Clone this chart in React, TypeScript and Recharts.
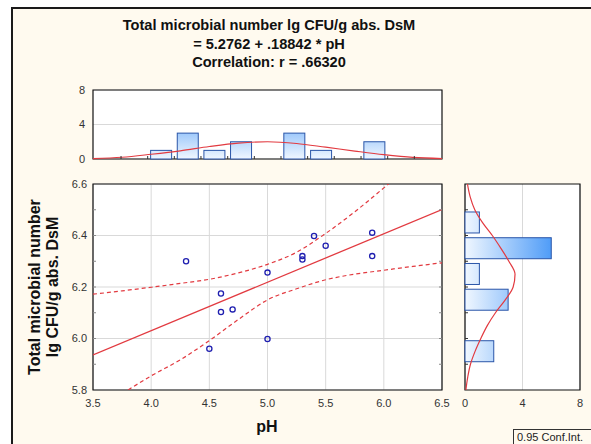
import React from "react";
import {
  Bar,
  CartesianGrid,
  ComposedChart,
  Line,
  ReferenceArea,
  Scatter,
  XAxis,
  YAxis
} from "recharts";

// scatter: pH vs total microbial number
const phValues = [4.3, 4.5, 4.6, 4.6, 4.7, 5.0, 5.0, 5.3, 5.3, 5.4, 5.5, 5.9, 5.9];
const cfuValues = [6.3, 5.96, 6.175, 6.103, 6.113, 6.256, 5.998, 6.32, 6.307, 6.398, 6.36, 6.411, 6.32];

// fitted line and 0.95 confidence band
const fitPh = [3.5, 6.5];
const fitCfu = [5.936, 6.501];
const bandPh = [3.5, 3.75, 4.0, 4.25, 4.5, 4.75, 5.0, 5.25, 5.5, 5.75, 6.0, 6.25, 6.5];
const bandUpper = [6.172, 6.185, 6.199, 6.214, 6.23, 6.255, 6.288, 6.335, 6.408, 6.492, 6.585, 6.68, 6.77];
const bandLower = [5.71, 5.785, 5.855, 5.917, 5.992, 6.074, 6.15, 6.193, 6.228, 6.25, 6.265, 6.28, 6.294];

const phTicks = [3.5, 4.0, 4.5, 5.0, 5.5, 6.0, 6.5];
const phMinorTicks = [
  3.6, 3.7, 3.8, 3.9, 4.0, 4.1, 4.2, 4.3, 4.4, 4.5, 4.6, 4.7, 4.8, 4.9, 5.0,
  5.1, 5.2, 5.3, 5.4, 5.5, 5.6, 5.7, 5.8, 5.9, 6.0, 6.1, 6.2, 6.3, 6.4
];
const cfuTicks = [5.8, 6.0, 6.2, 6.4, 6.6];
const cfuMinorTicks = [5.9, 6.0, 6.1, 6.2, 6.3, 6.4, 6.5];

// top histogram (pH)
const phBinCenters = [4.085, 4.314, 4.543, 4.772, 5.23, 5.46, 5.918];
const phBinCounts = [1, 3, 1, 2, 3, 1, 2];
const phBinEdges = [3.741, 3.97, 4.199, 4.428, 4.658, 4.887, 5.116, 5.345, 5.574, 5.804, 6.033, 6.262];
const phNormX = [3.5, 3.75, 4.0, 4.25, 4.5, 4.75, 5.0, 5.25, 5.5, 5.75, 6.0, 6.25, 6.5];
const phNormCount = [0.05, 0.2, 0.55, 0.95, 1.45, 1.85, 2.0, 1.8, 1.37, 0.92, 0.5, 0.18, 0.05];
const countTicks = [0, 4, 8];

// right histogram (microbial number)
const cfuBinCenters = [6.45, 6.35, 6.25, 6.15, 5.95];
const cfuBinCounts = [1, 6, 1, 3, 2];
const cfuNormY = [6.6, 6.55, 6.5, 6.45, 6.4, 6.35, 6.3, 6.25, 6.2, 6.15, 6.1, 6.05, 6.0, 5.95, 5.9, 5.85, 5.8];
const cfuNormCount = [0.17, 0.36, 0.68, 1.22, 1.9, 2.5, 3.05, 3.48, 3.35, 2.8, 2.12, 1.55, 1.1, 0.7, 0.38, 0.19, 0.06];

const FONT = "Arial, 'Liberation Sans', sans-serif";
const RED = "#e23a40";
const BAR_STROKE = "#2a55a8";
const BIN_PX = 21;
const tickStyle = { fill: "#333", fontSize: 11, fontFamily: FONT };
const blank = () => "";

const points = phValues.map((x, i) => ({ x, y: cfuValues[i] }));
const fitData = fitPh.map((x, i) => ({ x, fit: fitCfu[i] }));
const bandData = bandPh.map((x, i) => ({ x, upper: bandUpper[i], lower: bandLower[i] }));
const phHist = phBinCenters.map((x, i) => ({ x, n: phBinCounts[i] }));
const phNorm = phNormX.map((x, i) => ({ x, curve: phNormCount[i] }));
const cfuHist = cfuBinCenters.map((y, i) => ({ y, n: cfuBinCounts[i] }));
const cfuNorm = cfuNormY.map((y, i) => ({ y, curve: cfuNormCount[i] }));

// bars keep the library's position, widened to the bin width
const ColumnBin = (p: any) => (
  <rect x={p.x + p.width / 2 - BIN_PX / 2} y={p.y} width={BIN_PX} height={p.height}
    fill="url(#topGrad)" stroke={BAR_STROKE} strokeWidth={1} />
);
const RowBin = (p: any) => (
  <rect x={p.x} y={p.y + p.height / 2 - BIN_PX / 2} width={p.width} height={BIN_PX}
    fill="url(#rightGrad)" stroke={BAR_STROKE} strokeWidth={1} />
);

function ScatterPanel() {
  return (
    <ComposedChart width={460} height={251} margin={{ top: 14, right: 18, bottom: 0, left: 53 }}>
      <CartesianGrid stroke="#d9d9d9" fill="#fff" />
      <XAxis
        dataKey="x"
        type="number"
        domain={[3.5, 6.5]}
        allowDataOverflow
        ticks={phTicks}
        tickFormatter={(v: number) => v.toFixed(1)}
        tick={tickStyle}
        tickLine={false}
        axisLine={false}
        height={31}
        tickMargin={3}
      />
      <YAxis
        type="number"
        domain={[5.8, 6.6]}
        allowDataOverflow
        ticks={cfuTicks}
        tickFormatter={(v: number) => v.toFixed(1)}
        tick={tickStyle}
        tickLine={false}
        axisLine={false}
        width={40}
        tickSize={4}
        tickMargin={2}
      />
      <XAxis xAxisId="minorTop" orientation="top" mirror type="number" domain={[3.5, 6.5]}
        allowDataOverflow ticks={phMinorTicks} tickFormatter={blank} tickSize={3}
        axisLine={false} tickLine={{ stroke: "#888" }} />
      <XAxis xAxisId="minorBottom" orientation="bottom" mirror type="number" domain={[3.5, 6.5]}
        allowDataOverflow ticks={phMinorTicks} tickFormatter={blank} tickSize={3}
        axisLine={false} tickLine={{ stroke: "#888" }} />
      <YAxis yAxisId="minorLeft" orientation="left" mirror type="number" domain={[5.8, 6.6]}
        allowDataOverflow ticks={cfuMinorTicks} tickFormatter={blank} tickSize={3}
        axisLine={false} tickLine={{ stroke: "#888" }} />
      <YAxis yAxisId="minorRight" orientation="right" mirror type="number" domain={[5.8, 6.6]}
        allowDataOverflow ticks={cfuMinorTicks} tickFormatter={blank} tickSize={3}
        axisLine={false} tickLine={{ stroke: "#888" }} />
      <Line data={bandData} dataKey="upper" type="monotone" stroke={RED} strokeWidth={1.2}
        strokeDasharray="4 3" dot={false} isAnimationActive={false} />
      <Line data={bandData} dataKey="lower" type="monotone" stroke={RED} strokeWidth={1.2}
        strokeDasharray="4 3" dot={false} isAnimationActive={false} />
      <Line data={fitData} dataKey="fit" type="linear" stroke={RED} strokeWidth={1.3}
        dot={false} isAnimationActive={false} />
      <Scatter
        data={points}
        dataKey="y"
        isAnimationActive={false}
        shape={(p: any) => (
          <circle cx={p.cx} cy={p.cy} r={2.6} fill="none" stroke="#1f1fb0" strokeWidth={1.3} />
        )}
      />
      <ReferenceArea x1={3.5} x2={6.5} y1={5.8} y2={6.6} fill="none" stroke="#111" strokeWidth={1.2} />
    </ComposedChart>
  );
}

function TopHistogram() {
  return (
    <ComposedChart data={phHist} width={460} height={90} margin={{ top: 10, right: 18, bottom: 11, left: 63 }}>
      <defs>
        <linearGradient id="topGrad" gradientUnits="userSpaceOnUse" x1="0" y1="79" x2="0" y2="10">
          <stop offset="0%" stopColor="#f0f7ff" />
          <stop offset="100%" stopColor="#1a7ef5" />
        </linearGradient>
      </defs>
      <CartesianGrid stroke="#d9d9d9" fill="#fff" vertical={false} />
      <XAxis dataKey="x" type="number" orientation="bottom" mirror domain={[3.5, 6.5]}
        allowDataOverflow ticks={phBinEdges} tickFormatter={blank} tickSize={3}
        axisLine={false} tickLine={{ stroke: "#333" }} />
      <YAxis type="number" domain={[0, 8]} ticks={countTicks} tick={tickStyle}
        tickLine={false} axisLine={false} width={30} tickSize={4} tickMargin={4} />
      <Bar dataKey="n" shape={ColumnBin} isAnimationActive={false} />
      <Line data={phNorm} dataKey="curve" type="monotone" stroke={RED} strokeWidth={1.2}
        dot={false} isAnimationActive={false} />
      <ReferenceArea x1={3.5} x2={6.5} y1={0} y2={8} fill="none" stroke="#111" strokeWidth={1.2} />
    </ComposedChart>
  );
}

function RightHistogram() {
  return (
    <ComposedChart data={cfuHist} layout="vertical" width={151} height={251}
      margin={{ top: 14, right: 11, bottom: 0, left: 25 }}>
      <defs>
        <linearGradient id="rightGrad" gradientUnits="userSpaceOnUse" x1="25" y1="0" x2="140" y2="0">
          <stop offset="0%" stopColor="#f0f7ff" />
          <stop offset="100%" stopColor="#1a7ef5" />
        </linearGradient>
      </defs>
      <CartesianGrid stroke="#d9d9d9" fill="#fff" horizontal={false} />
      <XAxis type="number" domain={[0, 8]} ticks={countTicks} tick={tickStyle}
        tickLine={false} axisLine={false} height={31} tickMargin={3} />
      <YAxis dataKey="y" type="number" orientation="left" mirror reversed domain={[5.8, 6.6]}
        allowDataOverflow ticks={cfuMinorTicks} tickFormatter={blank} tickSize={3}
        axisLine={false} tickLine={{ stroke: "#333" }} />
      <YAxis yAxisId="right" orientation="right" mirror type="number" domain={[5.8, 6.6]}
        allowDataOverflow ticks={cfuMinorTicks} tickFormatter={blank} tickSize={3}
        axisLine={false} tickLine={{ stroke: "#333" }} />
      <Bar dataKey="n" shape={RowBin} isAnimationActive={false} />
      <Line data={cfuNorm} dataKey="curve" type="monotone" stroke={RED} strokeWidth={1.2}
        dot={false} isAnimationActive={false} />
      <ReferenceArea x1={0} x2={8} y1={5.8} y2={6.6} fill="none" stroke="#111" strokeWidth={1.2} />
    </ComposedChart>
  );
}

export default function App() {
  const abs = (left: number, top: number): React.CSSProperties => ({ position: "absolute", left, top });
  return (
    <div style={{ position: "relative", width: 591, height: 444, overflow: "hidden", background: "#fff", fontFamily: FONT }}>
      <style>{"body{margin:0}"}</style>
      <div style={{ ...abs(11, 7), width: 620, height: 470, border: "2px solid #1a1a1a", background: "#fffaef" }} />
      <div style={{ ...abs(0, 16), width: 538, textAlign: "center", fontWeight: 700, fontSize: 14.6, lineHeight: "18.5px", color: "#111" }}>
        <div>Total microbial number lg CFU/g abs. DsM</div>
        <div>= 5.2762 + .18842 * pH</div>
        <div>Correlation: r = .66320</div>
      </div>
      <div style={abs(0, 80)}>
        <TopHistogram />
      </div>
      <div style={abs(0, 170)}>
        <ScatterPanel />
      </div>
      <div style={abs(440, 170)}>
        <RightHistogram />
      </div>
      <div
        style={{
          ...abs(-56, 269),
          width: 200,
          height: 36,
          transform: "rotate(-90deg)",
          textAlign: "center",
          fontWeight: 700,
          fontSize: 16,
          lineHeight: "18px",
          color: "#111"
        }}
      >
        <div>Total microbial number</div>
        <div>lg CFU/g abs. DsM</div>
      </div>
      <div style={{ ...abs(217, 418), width: 100, textAlign: "center", fontWeight: 700, fontSize: 16, color: "#111" }}>pH</div>
      <div style={{ ...abs(513, 429), width: 90, height: 16, border: "1px solid #333", fontSize: 11, paddingLeft: 3, lineHeight: "15px", color: "#222" }}>
        0.95 Conf.Int.
      </div>
    </div>
  );
}
